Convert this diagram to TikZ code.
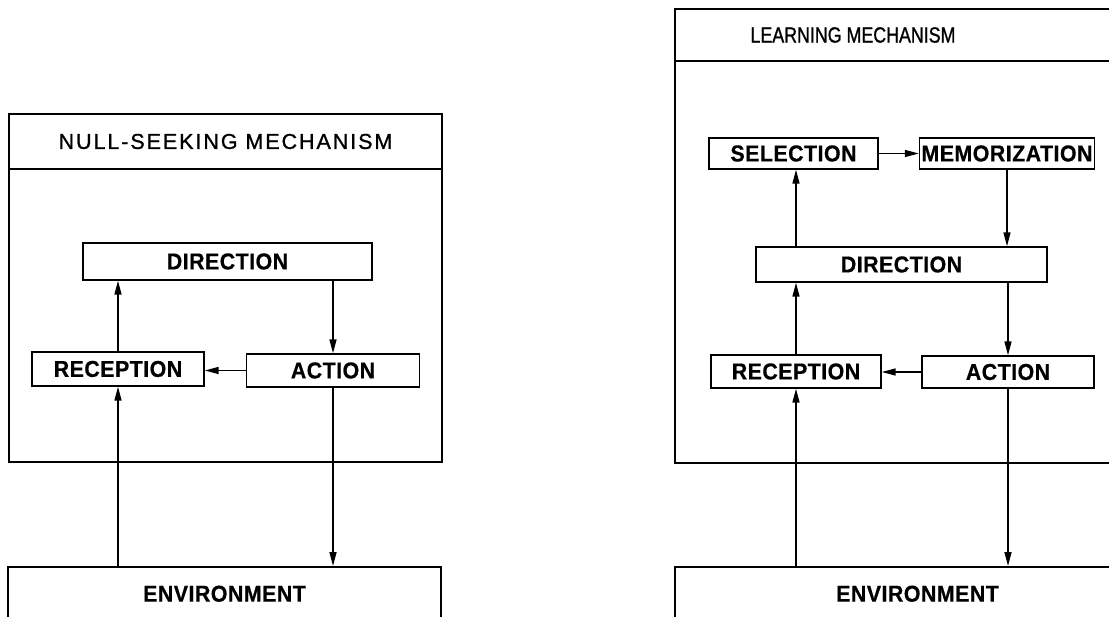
\documentclass[tikz,border=0pt]{standalone}
\usepackage{fontspec}
\setmainfont{Liberation Sans}
\newfontfamily\boxfont{Liberation Sans}[LetterSpace=2,FakeStretch=0.93,FakeBold=0.6]
\newfontfamily\headLfont{Liberation Sans}[LetterSpace=9,FakeBold=1]
\newfontfamily\headRfont{Liberation Sans}[FakeStretch=0.81,FakeBold=1]
\usetikzlibrary{arrows.meta}
\tikzset{
  panel/.style={draw, line width=1.5pt, inner sep=0pt},
  boxtext/.style={font=\boxfont\bfseries\fontsize{23}{27}\selectfont},
  blockbox/.style={draw, line width=1.4pt, inner sep=0pt, boxtext},
  headL/.style={inner sep=0pt, font=\headLfont\fontsize{21.5}{25}\selectfont},
  headR/.style={inner sep=0pt, font=\headRfont\fontsize{22}{26}\selectfont},
  arr/.style={line width=1.5pt, -{Triangle[length=14pt,width=7pt]}}
}
\begin{document}
\begin{tikzpicture}[x=1pt,y=-1pt]
\useasboundingbox (0,0) rectangle (1109,617);
% ---------- left: null-seeking mechanism ----------
\node[panel, minimum width=433pt, minimum height=348pt] (mechL) at (225.5,288) {};
\draw[line width=1.5pt] (mechL.west |- 0,169) -- (mechL.east |- 0,169);
\node[headL] (titleL) at (225.5,141.5) {NULL-SEEKING MECHANISM};
\node[blockbox, minimum width=289pt, minimum height=37pt] (dirL) at (227.5,261.5) {DIRECTION};
\node[blockbox, minimum width=172pt, minimum height=34pt] (recL) at (118,369) {RECEPTION};
\node[blockbox, minimum width=173pt, minimum height=33pt] (actL) at (333,370.5) {ACTION};
\node[panel, boxtext, anchor=north, minimum width=433pt, minimum height=54pt] (envL) at (224.5,566) {ENVIRONMENT};
\draw[arr] (recL.north) -- (recL.north |- dirL.south);
\draw[arr] (actL.north |- dirL.south) -- (actL.north);
\draw[arr] (actL.west) -- (actL.west -| recL.east);
\draw[arr] (recL.south |- envL.north) -- (recL.south);
\draw[arr] (actL.south) -- (actL.south |- envL.north);
% ---------- right: learning mechanism ----------
\node[panel, minimum width=455pt, minimum height=454pt] (mechR) at (902.5,236) {};
\draw[line width=1.5pt] (mechR.west |- 0,61) -- (mechR.east |- 0,61);
\node[headR] (titleR) at (853,35) {LEARNING MECHANISM};
\node[blockbox, minimum width=169pt, minimum height=31pt] (selR) at (793.5,153.5) {SELECTION};
\node[blockbox, minimum width=175pt, minimum height=31pt] (memR) at (1007,153.5) {MEMORIZATION};
\node[blockbox, minimum width=291pt, minimum height=35pt] (dirR) at (901.5,264.5) {DIRECTION};
\node[blockbox, minimum width=170pt, minimum height=33pt] (recR) at (796,371.5) {RECEPTION};
\node[blockbox, minimum width=172pt, minimum height=32pt] (actR) at (1008,372) {ACTION};
\node[panel, boxtext, anchor=north, minimum width=485pt, minimum height=54pt] (envR) at (917.5,566) {ENVIRONMENT};
\draw[arr] (selR.east) -- (memR.west);
\draw[arr] (memR.south) -- (memR.south |- dirR.north);
\draw[arr] (recR.north |- dirR.north) -- (recR.north |- selR.south);
\draw[arr] (recR.north) -- (recR.north |- dirR.south);
\draw[arr] (actR.north |- dirR.south) -- (actR.north);
\draw[arr] (actR.west) -- (actR.west -| recR.east);
\draw[arr] (recR.south |- envR.north) -- (recR.south);
\draw[arr] (actR.south) -- (actR.south |- envR.north);
\end{tikzpicture}
\end{document}
